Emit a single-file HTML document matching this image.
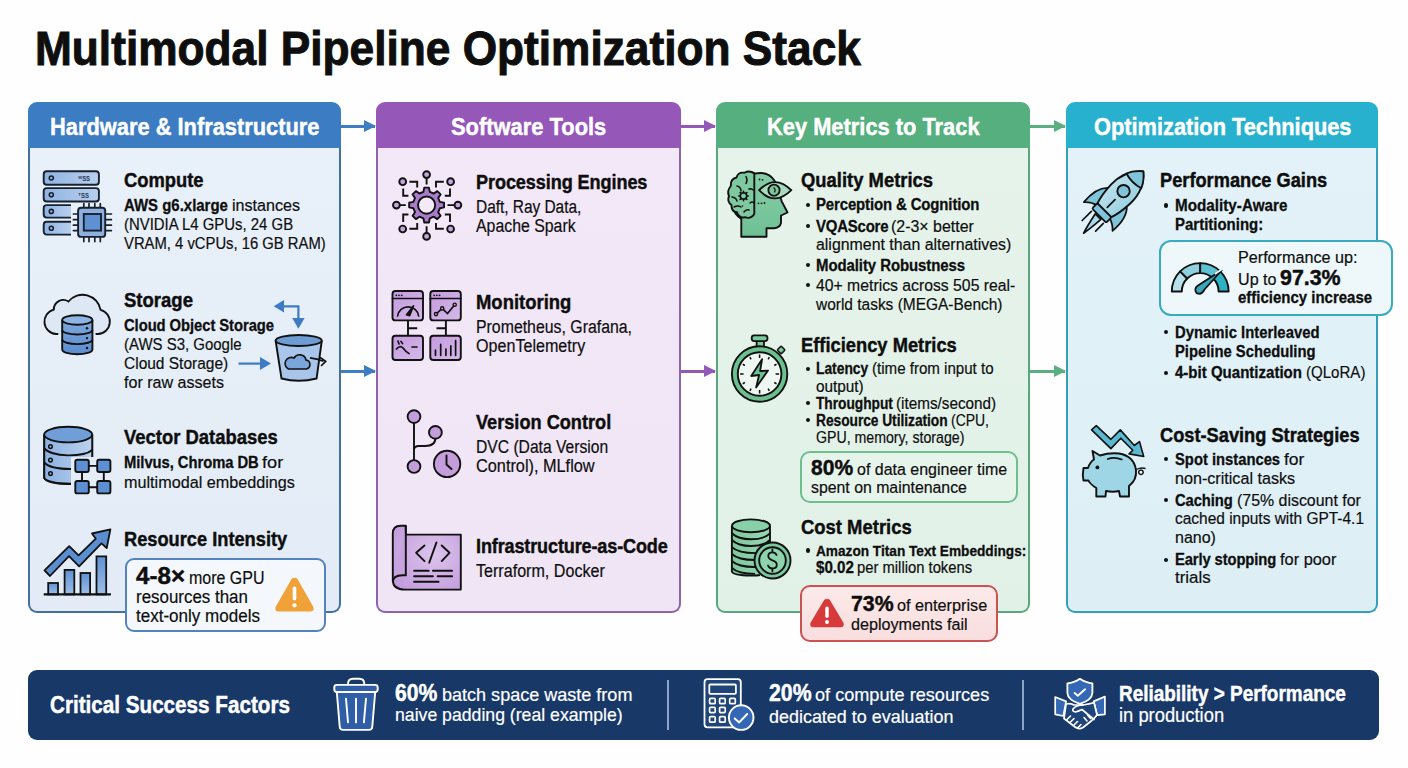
<!DOCTYPE html>
<html><head><meta charset="utf-8">
<style>
*{margin:0;padding:0;box-sizing:border-box}
html,body{width:1408px;height:768px;overflow:hidden;background:#fefefe}
body{position:relative;font-family:"Liberation Sans",sans-serif}
.t{position:absolute;white-space:nowrap;line-height:0;font-size:0;transform-origin:0 0}
.t b,.t span{line-height:0;font-weight:700}
.t span{font-weight:400}
.bu{position:absolute;width:4.2px;height:4.2px;border-radius:50%;background:#111}
.pn{position:absolute;top:102px;height:511px;border:2px solid;border-radius:9px;overflow:hidden}
.pn .hd{position:absolute;left:0;top:0;right:0;height:44px}
.ar{position:absolute;height:2.6px}
.ar:after{content:"";position:absolute;right:-1px;top:-5px;border-left:12px solid;border-left-color:inherit;border-top:6.3px solid transparent;border-bottom:6.3px solid transparent}
.box{position:absolute;border:2px solid;border-radius:10px}
svg{position:absolute;overflow:visible}
</style></head><body>

<!-- panels -->
<div style="position:absolute;left:28px;top:102px;width:313px;height:45.5px;background:#3b7cc3;border-radius:9px 9px 0 0"></div>
<div style="position:absolute;left:28px;top:147.5px;width:313px;height:465.3px;border:2px solid #44709f;border-top:0;border-radius:0 0 9px 9px;background:linear-gradient(180deg,#e8f0f9,#e3ecf6)"></div>
<div style="position:absolute;left:376px;top:102px;width:305px;height:45.5px;background:#9557b8;border-radius:9px 9px 0 0"></div>
<div style="position:absolute;left:376px;top:147.5px;width:305px;height:465.3px;border:2px solid #8c64ab;border-top:0;border-radius:0 0 9px 9px;background:linear-gradient(180deg,#f2e8f7,#efe5f4)"></div>
<div style="position:absolute;left:716px;top:102px;width:314px;height:45.5px;background:#55af7e;border-radius:9px 9px 0 0"></div>
<div style="position:absolute;left:716px;top:147.5px;width:314px;height:465.3px;border:2px solid #58a87b;border-top:0;border-radius:0 0 9px 9px;background:linear-gradient(180deg,#e5f3ea,#e2f1e7)"></div>
<div style="position:absolute;left:1066px;top:102px;width:312px;height:45.5px;background:#27b1cf;border-radius:9px 9px 0 0"></div>
<div style="position:absolute;left:1066px;top:147.5px;width:312px;height:465.3px;border:2px solid #34a0ba;border-top:0;border-radius:0 0 9px 9px;background:linear-gradient(180deg,#e2f2f8,#ddeff5)"></div>

<!-- arrows -->
<div class="ar" style="left:341px;top:125.2px;width:34px;background:#3f7dc2;border-color:#3f7dc2"></div>
<div class="ar" style="left:341px;top:370px;width:34px;background:#3f7dc2;border-color:#3f7dc2"></div>
<div class="ar" style="left:681px;top:125.2px;width:34px;background:#9459b6;border-color:#9459b6"></div>
<div class="ar" style="left:681px;top:370px;width:34px;background:#9459b6;border-color:#9459b6"></div>
<div class="ar" style="left:1030px;top:125.2px;width:35px;background:#5aae80;border-color:#5aae80"></div>
<div class="ar" style="left:1030px;top:370px;width:35px;background:#5aae80;border-color:#5aae80"></div>

<!-- callout boxes -->
<div class="box" style="left:125px;top:558px;width:201px;height:73.5px;border-color:#5283bf;background:#f4f8fc;border-radius:9px"></div>
<div class="box" style="left:799.5px;top:451px;width:218.5px;height:52px;border-color:#6fbf8e;background:#e7f4ec"></div>
<div class="box" style="left:800px;top:584.8px;width:197.7px;height:57.5px;border-color:#c95252;background:linear-gradient(180deg,#fce9e9,#f9dede)"></div>
<div class="box" style="left:1159px;top:240.3px;width:234px;height:75.5px;border-color:#3aa9c2;background:#eef8fb;border-radius:12px"></div>

<!-- bottom bar -->
<div style="position:absolute;left:28px;top:670px;width:1351px;height:69.5px;background:#183868;border-radius:9px"></div>
<div style="position:absolute;left:667px;top:680px;width:1.6px;height:49.5px;background:#8aa3c6"></div>
<div style="position:absolute;left:1022px;top:680px;width:1.6px;height:49.5px;background:#8aa3c6"></div>


<!-- P1 icon: servers + chip -->
<svg style="left:38px;top:165px" width="80" height="80" viewBox="0 0 80 80">
<defs>
<linearGradient id="gb1" x1="0" y1="0" x2="1" y2="0"><stop offset="0" stop-color="#8fb3e2"/><stop offset="1" stop-color="#b9d0ee"/></linearGradient>
<linearGradient id="gb2" x1="0" y1="0" x2="0" y2="1"><stop offset="0" stop-color="#7aa5dc"/><stop offset="1" stop-color="#5a8bcf"/></linearGradient>
</defs>
<g stroke="#17202c" stroke-width="1.9" fill="url(#gb1)">
<rect x="5.7" y="6.3" width="55.2" height="13.5" rx="3"/>
<rect x="5.7" y="23.1" width="55.2" height="13.4" rx="3"/>
<path d="M33,40.1 H8.7 a3,3 0 0 0 -3,3 v6.5 a3,3 0 0 0 3,3 H33"/>
<path d="M33,56.8 H8.7 a3,3 0 0 0 -3,3 v6.8 a3,3 0 0 0 3,3 H33"/>
</g>
<g fill="none" stroke="#17202c" stroke-width="1.6">
<circle cx="13.3" cy="13" r="2"/><circle cx="13.3" cy="29.8" r="2"/><circle cx="13.3" cy="46.4" r="2"/><circle cx="13.3" cy="63.2" r="2"/>
</g>
<g fill="#24364f" font-family="Liberation Sans" font-size="7" font-weight="700" transform="scale(0.85,1)"><text x="47.5" y="15.8">ᵂSS</text><text x="47.5" y="32.6">ᵀSS</text></g>
<g stroke="#17202c" stroke-width="1.7" stroke-linecap="round">
<path d="M45.8,38.5v4.2M51,38.5v4.2M56.8,38.5v4.2M62.3,38.5v4.2M45.8,71.9v4.7M51,71.9v4.7M56.8,71.9v4.7M62.3,71.9v4.7M35.4,49h4.7M35.4,54.7h4.7M35.4,60.2h4.7M35.4,65.6h4.7M67.2,49h6.2M67.2,54.7h6.2M67.2,60.2h6.2M67.2,65.6h6.2"/>
</g>
<rect x="40.1" y="42.7" width="27.1" height="29.2" rx="3" fill="#8db0df" stroke="#17202c" stroke-width="1.9"/>
<rect x="45.8" y="49" width="17.2" height="16.6" fill="#5f90d2" stroke="#17202c" stroke-width="1.9"/>
</svg>

<!-- P1 icon: cloud + db -->
<svg style="left:38px;top:285px" width="80" height="80" viewBox="0 0 80 80">
<defs><linearGradient id="gb3" x1="0" y1="0" x2="0" y2="1"><stop offset="0" stop-color="#7ea9de"/><stop offset="1" stop-color="#5c8ccf"/></linearGradient></defs>
<path d="M20.3,49 H18 A12.4,12.4 0 0 1 15.8,24.6 A9.5,9.5 0 0 1 30.5,16.5 A18.2,18.2 0 0 1 62.6,24.8 A12.3,12.3 0 0 1 60,49 H57.6" fill="#dde8f4" stroke="#111" stroke-width="1.9"/>
<g stroke="#111" stroke-width="1.9" fill="url(#gb3)">
<path d="M24.2,35 V64.5 A15.1,4.8 0 0 0 54.4,64.5 V35"/>
<path d="M24.2,45 A15.1,4.5 0 0 0 54.4,45 M24.2,54.6 A15.1,4.5 0 0 0 54.4,54.6" fill="none"/>
<ellipse cx="39.3" cy="35" rx="15.1" ry="4.7" fill="#8fb5e4"/>
</g>
<g fill="#111"><circle cx="49" cy="43.2" r="1.2"/><circle cx="49" cy="53.1" r="1.2"/><circle cx="49" cy="63" r="1.2"/></g>
</svg>

<!-- P1 icon: arrows + bucket -->
<svg style="left:232px;top:290px" width="100" height="100" viewBox="0 0 100 100">
<g stroke="#3d7cc4" stroke-width="2.2" fill="none"><path d="M50,16.3 H66.4 V29"/><path d="M6.5,73.6 H29"/></g>
<g fill="#3d7cc4"><path d="M41.7,16.3 L52,10.1 V22.5Z"/><path d="M66.4,38.8 L60.2,28 H72.6Z"/><path d="M39,73.6 L28,67.1 V80.1Z"/></g>
<path d="M43.6,50.5 L49.5,88.5 Q66.7,93 84.6,88.5 L89.8,50.5" fill="#a9c6ea" stroke="#111" stroke-width="1.9"/>
<ellipse cx="66.7" cy="50.5" rx="23.1" ry="5.5" fill="#6e9dd6" stroke="#111" stroke-width="1.9"/>
<path d="M56.5,79 H74.5 A4.6,4.6 0 0 0 74,70 A6.5,6.5 0 0 0 62,68 A5.5,5.5 0 0 0 56.5,79Z" fill="#7aa6dc" stroke="#111" stroke-width="1.6"/>
<path d="M78,67.8 Q85,68.5 91.5,71.2" fill="none" stroke="#111" stroke-width="1.7"/>
<path d="M88.5,67.8 L93.8,71.4 L89.5,75.5" fill="none" stroke="#111" stroke-width="1.7" stroke-linecap="round" stroke-linejoin="round"/>
</svg>

<!-- P1 icon: db + network -->
<svg style="left:38px;top:420px" width="80" height="80" viewBox="0 0 80 80">
<defs><linearGradient id="gb4" x1="0" y1="0" x2="1" y2="0"><stop offset="0" stop-color="#8cb1e2"/><stop offset="1" stop-color="#bcd2ee"/></linearGradient></defs>
<path d="M6.25,14.6 V58 A24,6.5 0 0 0 33,64 M54.2,14.6 V37" fill="url(#gb4)" stroke="#111" stroke-width="1.9"/>
<path d="M6.25,14.6 V58 Q8,63.5 33,63.6 V37 H54.2 V14.6Z" fill="url(#gb4)"/>
<path d="M6.25,14.6 V58 Q10,63.5 33,63.6 M54.2,14.6 V37" fill="none" stroke="#111" stroke-width="1.9"/>
<path d="M6.25,28.5 Q12,35 30,35.4 Q48,35.5 54.2,30 M6.25,42.5 Q12,49 33,49" fill="none" stroke="#111" stroke-width="1.9"/>
<ellipse cx="30.2" cy="14.6" rx="24" ry="7.8" fill="#6f9ed8" stroke="#111" stroke-width="1.9"/>
<g fill="none" stroke="#111" stroke-width="1.5"><circle cx="12.5" cy="26.6" r="1.8"/><circle cx="12.5" cy="40.1" r="1.8"/><circle cx="12.5" cy="53.6" r="1.8"/></g>
<g stroke="#111" stroke-width="1.9"><path d="M50.8,45.9H59.2M50.8,67.2H59.2M44,52V61M65.8,52V61"/></g>
<g fill="#5e8fd2" stroke="#111" stroke-width="1.9">
<rect x="37.3" y="39.8" width="13.5" height="12.2" rx="2"/><rect x="59.2" y="39.8" width="13.2" height="12.2" rx="2"/>
<rect x="37.3" y="61" width="13.5" height="12.4" rx="2"/><rect x="59.2" y="61" width="13.2" height="12.4" rx="2"/>
</g>
</svg>

<!-- P1 icon: growth chart -->
<svg style="left:38px;top:522px" width="80" height="80" viewBox="0 0 80 80">
<defs><linearGradient id="gb5" x1="0" y1="0" x2="0" y2="1"><stop offset="0" stop-color="#5f92d3"/><stop offset="1" stop-color="#9dbde8"/></linearGradient></defs>
<g fill="url(#gb5)" stroke="#111" stroke-width="1.8">
<rect x="10.2" y="61" width="9.8" height="11.4"/><rect x="26.6" y="47.9" width="9.7" height="24.5"/><rect x="42.5" y="51" width="9.6" height="21.4"/><rect x="58.5" y="34.4" width="9.7" height="38"/>
</g>
<path d="M6.5,48.4 L31.2,24.2 L40.6,33.3 L57.8,16.7 L54,11.5 L72.4,7.3 L68.7,26 L63.5,21.4 L41.1,44.3 L31,34.2 L12,54Z" fill="#5a8ed0" stroke="#111" stroke-width="1.8" stroke-linejoin="round"/>
<path d="M5.7,72.4 H72.9" stroke="#111" stroke-width="2.2"/>
</svg>

<!-- warning triangle orange -->
<svg style="left:274px;top:576px" width="41" height="37" viewBox="0 0 41 37">
<path d="M20.5,2 Q22.2,1 23.6,3.2 L39.4,31 Q40.5,35.5 36.5,35.5 H4.5 Q0.5,35.5 1.6,31 L17.4,3.2 Q18.8,1 20.5,2Z" fill="#f0a238"/>
<rect x="18.7" y="10.5" width="3.6" height="14" rx="1.8" fill="#fff"/><circle cx="20.5" cy="29.3" r="2.1" fill="#fff"/>
</svg>

<!-- P2 icon: gear network -->
<svg style="left:386px;top:165px" width="80" height="80" viewBox="0 0 80 80">
<g stroke="#111" stroke-width="1.9" fill="none" stroke-linecap="butt">
<path d="M40.6,13v6.5M40.6,61.3v6.8M13.8,40.1h6M61.5,40.1h6.8"/>
<path d="M23.4,16.7H31.2V22.4M17.2,23.4V30.7H22.4"/>
<path d="M57.8,16.7H50V22.4M64,23.4V30.7H58.8"/>
<path d="M23.4,63.8H31.2V58M17.2,57V49.5H22.4"/>
<path d="M57.8,63.8H50V58M64,57V49.5H58.8"/>
</g>
<g fill="#c7a5dc" stroke="#111" stroke-width="1.9">
<circle cx="40.6" cy="9.6" r="3.4"/><circle cx="40.6" cy="71.4" r="3.4"/><circle cx="10.4" cy="40.1" r="3.4"/><circle cx="71.9" cy="40.1" r="3.4"/>
<circle cx="16.7" cy="16.7" r="3.4"/><circle cx="64.6" cy="16.7" r="3.4"/><circle cx="16.7" cy="64" r="3.4"/><circle cx="64.6" cy="64" r="3.4"/>
</g>
<path d="M53.82,36.93 L58.04,37.76 L58.04,42.44 L53.82,43.27 L52.20,47.21 L54.59,50.78 L51.28,54.09 L47.71,51.70 L43.77,53.32 L42.94,57.54 L38.26,57.54 L37.43,53.32 L33.49,51.70 L29.92,54.09 L26.61,50.78 L29.00,47.21 L27.38,43.27 L23.16,42.44 L23.16,37.76 L27.38,36.93 L29.00,32.99 L26.61,29.42 L29.92,26.11 L33.49,28.50 L37.43,26.88 L38.26,22.66 L42.94,22.66 L43.77,26.88 L47.71,28.50 L51.28,26.11 L54.59,29.42 L52.20,32.99Z" fill="#a97ccb" stroke="#111" stroke-width="1.9" stroke-linejoin="round"/>
<circle cx="40.6" cy="40.1" r="8.6" fill="#f3eaf8" stroke="#111" stroke-width="1.9"/>
</svg>

<!-- P2 icon: dashboards -->
<svg style="left:386px;top:286px" width="80" height="80" viewBox="0 0 80 80">
<defs><linearGradient id="gp1" x1="0" y1="0" x2="1" y2="1"><stop offset="0" stop-color="#c49adf"/><stop offset="1" stop-color="#d5b9e8"/></linearGradient></defs>
<g stroke="#111" stroke-width="1.9" fill="none"><path d="M22,34.4V49.8M22,42.2H31.2M59.9,34.4V49.8M59.9,42.2H50.5"/></g>
<g fill="url(#gp1)" stroke="#111" stroke-width="1.9">
<rect x="6.5" y="5" width="30.5" height="29.4" rx="3"/><rect x="44.3" y="5" width="30.5" height="29.4" rx="3"/>
<rect x="6.5" y="49.8" width="30.5" height="24.2" rx="3"/><rect x="44.3" y="49.8" width="30.5" height="24.2" rx="3"/>
</g>
<g stroke="#111" stroke-width="1.7" fill="none" stroke-linecap="round">
<path d="M6.5,12.5H37M44.3,12.5H74.8"/>
<path d="M11.6,30 A10.6,10.6 0 0 1 32.6,30"/>
<path d="M50,28.1 L56.2,22.4 L61.5,27.6 L68.7,18.7"/>
<path d="M49.5,69.3V64M54.7,69.3V58.3M59.9,69.3V63M64.8,69.3V59.9M69.6,69.3V54.7"/>
<path d="M10.5,63 Q14,59 17,62 Q20,66 23,67.5 M26,61h5 M12,55 l1,3 M15,55.5l1.5,2"/>
</g>
<g fill="#111"><circle cx="10.3" cy="9.3" r="0.9"/><circle cx="13" cy="9.3" r="0.9"/><circle cx="15.7" cy="9.3" r="0.9"/><circle cx="48.2" cy="9.3" r="0.9"/><circle cx="50.9" cy="9.3" r="0.9"/><circle cx="53.6" cy="9.3" r="0.9"/></g>
<path d="M20.5,28.8 L27.6,19.8 L23.6,29.8Z" fill="#111" stroke="#111" stroke-width="1.6" stroke-linejoin="round"/>
<g fill="#d2b3e6" stroke="#111" stroke-width="1.4"><circle cx="50" cy="28.1" r="1.6"/><circle cx="56.2" cy="22.4" r="1.6"/><circle cx="68.7" cy="18.7" r="1.6"/></g>
</svg>

<!-- P2 icon: git branch + clock -->
<svg style="left:386px;top:400px" width="80" height="80" viewBox="0 0 80 80">
<g stroke="#111" stroke-width="1.9" fill="none"><path d="M28,17V60"/><path d="M28,50 Q28,46 33,46 H39 Q49.4,46 49.4,38"/></g>
<g fill="#c49ddb" stroke="#111" stroke-width="1.9">
<circle cx="28" cy="16.6" r="6.4"/><circle cx="49.4" cy="32.4" r="6.4"/><circle cx="28" cy="66.5" r="6.4"/>
<circle cx="61.1" cy="63.9" r="13.2"/>
</g>
<path d="M60.5,55.5V64.5L65.5,69" fill="none" stroke="#111" stroke-width="1.9" stroke-linecap="round"/>
</svg>

<!-- P2 icon: IaC scroll -->
<svg style="left:386px;top:520px" width="80" height="80" viewBox="0 0 80 80">
<defs><radialGradient id="gp2" cx="0.6" cy="0.45" r="0.7"><stop offset="0" stop-color="#dcc5ec"/><stop offset="1" stop-color="#c29bdc"/></radialGradient></defs>
<path d="M19.8,14.6 H74.8 V69.6 H19 Q6.8,69.6 6.8,60 V13.5 Q6.8,5.7 14.5,5.7 H19.8Z" fill="url(#gp2)" stroke="#111" stroke-width="1.9" stroke-linejoin="round"/>
<path d="M19.8,5.7 V55.2 H16.5 Q6.8,55.5 6.8,62" fill="#c7a3de" stroke="#111" stroke-width="1.9"/>
<g stroke="#111" stroke-width="1.9" fill="none" stroke-linecap="round" stroke-linejoin="round">
<path d="M38.5,25.5 L30.2,32.8 L38.5,41.1"/><path d="M50.5,22.4 L43.2,42.7"/><path d="M55.7,25.5 L63.5,32.8 L55.7,41.1"/>
<path d="M28.1,50.8H42.7M46.9,50.8H66.1M28.1,56.2H46.9M51.6,56.2H66.1M28.1,61.7H52.6"/>
</g>
</svg>

<!-- P3 icon: head -->
<svg style="left:724px;top:166px" width="72" height="76" viewBox="0 0 72 76">
<defs><linearGradient id="gg1" x1="0" y1="0" x2="0" y2="1"><stop offset="0" stop-color="#86cda6"/><stop offset="1" stop-color="#6fc096"/></linearGradient></defs>
<path d="M17.3,70.7 V53 Q10,48 8.5,40 Q4,36 6,29 Q5,21 11,17 Q14,9 21,8 Q27,5 31,7.5 Q44,5 50,14 Q55,22 57,33 Q58,37 58.4,36.6 L63.5,46.5 L57,49.5 V57 Q56,61.5 50.4,62.3 H42.5 V70.7Z" fill="url(#gg1)" stroke="#111" stroke-width="1.9" stroke-linejoin="round"/>
<path d="M30.3,7.5 Q25.5,3.8 20.5,6.8 Q14,5.8 12.5,11.5 Q6.2,13 6.8,20 Q2.6,25 5,30 Q2.6,35.5 7.5,39 Q7,45.5 13,46.3 Q15,52.5 21,51.2 Q26.5,53.5 30.3,48 Z" fill="#7fc9a0" stroke="#111" stroke-width="1.9" stroke-linejoin="round"/>
<g fill="none" stroke="#111" stroke-width="1.5" stroke-linecap="round">
<path d="M22,10.5 Q24,14 22,17.5 M13,20 Q17,21 17,25 M8,31 Q12,31.5 13,35 M10,41 Q14,39 17,41 M20,46 Q22,43 25,44 M25,23 Q28,22 29,24 M26,37 Q28,35 30,37"/>
<circle cx="19.5" cy="30" r="3.2"/>
<path d="M19.5,25.2v1.6M19.5,33.2v1.6M14.7,30h1.6M22.7,30h1.6M16,26.5l1.1,1.1M21.9,32.4l1.1,1.1M16,33.5l1.1,-1.1M21.9,27.6l1.1,-1.1"/>
</g>
<path d="M35.1,24.2 Q51,8 67.3,24.2 Q51,40.5 35.1,24.2Z" fill="#a6dcbd" stroke="#111" stroke-width="1.9" stroke-linejoin="round"/>
<circle cx="50" cy="24.2" r="5.6" fill="#7cc69c" stroke="#111" stroke-width="1.8"/>
<path d="M49.5,21.5 Q52,23 50.5,26.5" fill="none" stroke="#111" stroke-width="1.2"/>
<g fill="#111"><circle cx="35.5" cy="13.5" r="0.9"/><circle cx="38.5" cy="13.8" r="0.9"/><circle cx="34.5" cy="37.3" r="0.9"/><circle cx="37.5" cy="37.3" r="0.9"/><circle cx="40.5" cy="37" r="0.9"/><circle cx="26.5" cy="23" r="0.8"/><circle cx="18.5" cy="40" r="0.8"/></g>
</svg>

<!-- P3 icon: stopwatch -->
<svg style="left:724px;top:330px" width="72" height="76" viewBox="0 0 72 76">
<rect x="32.6" y="10.5" width="7.4" height="6.5" fill="#79c79b" stroke="#111" stroke-width="1.8"/>
<rect x="27.7" y="5.4" width="15.8" height="5.7" rx="2.5" fill="#79c79b" stroke="#111" stroke-width="1.8"/>
<rect x="54.3" y="17.2" width="5.6" height="5.6" rx="1" transform="rotate(45 57.1 20)" fill="#79c79b" stroke="#111" stroke-width="1.6"/>
<circle cx="35.6" cy="44" r="24.8" fill="none" stroke="#6cc08f" stroke-width="5.8"/>
<circle cx="35.6" cy="44" r="27.7" fill="none" stroke="#111" stroke-width="1.9"/>
<circle cx="35.6" cy="44" r="21.8" fill="#eef7f1" stroke="#111" stroke-width="1.9"/>
<path d="M35.60,24.50L35.60,28.00M45.35,27.11L44.10,29.28M52.49,34.25L50.32,35.50M55.10,44.00L51.60,44.00M52.49,53.75L50.32,52.50M45.35,60.89L44.10,58.72M35.60,63.50L35.60,60.00M25.85,60.89L27.10,58.72M18.71,53.75L20.88,52.50M16.10,44.00L19.60,44.00M18.71,34.25L20.88,35.50M25.85,27.11L27.10,29.28" stroke="#111" stroke-width="1.5"/>
<path d="M38.1,29.2 L27.2,46 L35.1,45 L32.1,57.4 L44,40.6 L36.1,41Z" fill="#6cc08f" stroke="#111" stroke-width="1.8" stroke-linejoin="round"/>
</svg>

<!-- P3 icon: coins -->
<svg style="left:724px;top:512px" width="72" height="76" viewBox="0 0 72 76">
<defs><linearGradient id="gg2" x1="0" y1="0" x2="1" y2="0"><stop offset="0" stop-color="#7cc89e"/><stop offset="1" stop-color="#9ad6b4"/></linearGradient></defs>
<path d="M7.9,13.8 V59.5 Q9,63.5 27,63.5 Q38,63.5 46,60 V13.8Z" fill="url(#gg2)"/><path d="M7.9,13.8 V59.5 Q9,63.5 27,63.5 Q34,63.5 36,63" fill="none" stroke="#111" stroke-width="1.9"/>
<path d="M46,13.8 V33" stroke="#111" stroke-width="1.9"/>
<g fill="none" stroke="#111" stroke-width="1.9">
<path d="M7.9,21.3 Q14,27.3 27,27.3 Q40,27.3 46,21.3"/>
<path d="M7.9,28 Q14,34 27,34 Q40,34 46,28"/>
<path d="M7.9,35.1 Q14,41.1 32,41.1"/>
<path d="M7.9,42 Q14,48 31,48"/>
<path d="M7.9,49 Q14,55 31,55"/>
<path d="M7.9,55.9 Q14,61.9 31,61.9"/>
</g>
<ellipse cx="27" cy="13.8" rx="19" ry="6.4" fill="#88d0a8" stroke="#111" stroke-width="1.9"/>
<circle cx="48.5" cy="48.5" r="18" fill="#7cc89e" stroke="#111" stroke-width="1.9"/>
<circle cx="48.5" cy="48.5" r="13.3" fill="#8fd3ae" stroke="#111" stroke-width="1.9"/>
<path d="M52.5,43 Q51.5,40.3 48.3,40.3 Q44.3,40.3 44.3,44 Q44.3,47 48.5,48.3 Q52.8,49.6 52.8,52.8 Q52.8,56.5 48.5,56.5 Q45,56.5 44,53.5 M48.4,37.5V40.3M48.4,56.5V59.3" fill="none" stroke="#111" stroke-width="1.8" stroke-linecap="round"/>
</svg>

<!-- red warning triangle -->
<svg style="left:809px;top:597px" width="36" height="32" viewBox="0 0 36 32">
<path d="M18,2.3 Q19.6,1.3 21,3.3 L34.6,26 Q35.5,30.3 31.6,30.3 H4.4 Q0.5,30.3 1.4,26 L15,3.3 Q16.4,1.3 18,2.3Z" fill="#d8393b"/>
<rect x="16.3" y="9.5" width="3.4" height="11.5" rx="1.7" fill="#fff"/><circle cx="18" cy="25" r="2" fill="#fff"/>
</svg>

<!-- P4 icon: rocket -->
<svg style="left:1076px;top:164px" width="76" height="76" viewBox="0 0 76 76">
<defs><linearGradient id="gt1" x1="0" y1="0" x2="1" y2="0"><stop offset="0" stop-color="#b9e0ec"/><stop offset="1" stop-color="#9dd2e3"/></linearGradient></defs>
<g transform="translate(43.3,31.4) rotate(45)">
<path d="M-4,30 Q0,48 1.5,52 Q3,44 4,30Z" fill="#a9d8e6" stroke="#111" stroke-width="1.7" stroke-linejoin="round"/>
<path d="M-8.5,31 V44 M8.5,31 V42" stroke="#111" stroke-width="1.7" stroke-linecap="round"/>
<path d="M-12.5,2 Q-22,10 -20.3,29.8 Q-15,24 -8.3,22.8Z" fill="#7fc4da" stroke="#111" stroke-width="1.8" stroke-linejoin="round"/>
<path d="M12.5,2 Q22,10 20.3,29.8 Q15,24 8.3,22.8Z" fill="#7fc4da" stroke="#111" stroke-width="1.8" stroke-linejoin="round"/>
<path d="M0,-34 Q14,-22 13.5,-2 Q13,12 9.5,22 H-9.5 Q-13,12 -13.5,-2 Q-14,-22 0,-34Z" fill="url(#gt1)" stroke="#111" stroke-width="1.9" stroke-linejoin="round"/>
<path d="M0,-34 Q7.5,-28 10.5,-20.5 Q0,-17.5 -10.5,-20.5 Q-7.5,-28 0,-34Z" fill="#7fc4da" stroke="#111" stroke-width="1.8" stroke-linejoin="round"/>
<rect x="-10" y="21" width="20" height="7.5" rx="1.5" fill="#7fc4da" stroke="#111" stroke-width="1.8"/>
<circle cx="0" cy="-6" r="6.2" fill="#7fc4da" stroke="#111" stroke-width="1.9"/>
<path d="M0,6 V17" stroke="#111" stroke-width="1.7" stroke-linecap="round"/>
</g>
</svg>

<!-- P4 icon: gauge -->
<svg style="left:1164px;top:250px" width="76" height="55" viewBox="0 0 76 55">
<path d="M7.80,41.50 A28.4,28.4 0 0 1 16.12,21.42 L23.19,28.49 A18.4,18.4 0 0 0 17.80,41.50 Z" fill="#b6e0ea" stroke="#111" stroke-width="1.9" stroke-linejoin="round"/>
<path d="M16.12,21.42 A28.4,28.4 0 0 1 36.20,13.10 L36.20,23.10 A18.4,18.4 0 0 0 23.19,28.49 Z" fill="#8fd0e0" stroke="#111" stroke-width="1.9" stroke-linejoin="round"/>
<path d="M36.20,13.10 A28.4,28.4 0 0 1 56.28,21.42 L49.21,28.49 A18.4,18.4 0 0 0 36.20,23.10 Z" fill="#5cc2d2" stroke="#111" stroke-width="1.9" stroke-linejoin="round"/>
<path d="M56.28,21.42 A28.4,28.4 0 0 1 64.60,41.50 L54.60,41.50 A18.4,18.4 0 0 0 49.21,28.49 Z" fill="#2fb2c4" stroke="#111" stroke-width="1.9" stroke-linejoin="round"/>
<path d="M58,20 L40.5,39.5 Q37.5,45.5 32.5,43 Q29.5,38.5 34,35.5Z" fill="#38a6bb" stroke="#111" stroke-width="1.8" stroke-linejoin="round"/>
<path d="M51,24 L59,18.5" stroke="#e9f9fc" stroke-width="1.6"/>
</svg>

<!-- P4 icon: piggy -->
<svg style="left:1076px;top:420px" width="76" height="80" viewBox="0 0 76 80">
<path d="M15.6,9.9 L20.3,5.7 L34.9,19.3 L44.3,9.9 L58.3,25.5 L63.5,21.6 L67.7,36.5 L53.1,33.9 L56.8,30.2 L44.8,18.2 L34.9,28.6Z" fill="#5ab8d0" stroke="#111" stroke-width="1.6" stroke-linejoin="round"/>
<path d="M16.5,31 L24,35.5 Q33,32.5 43,33.5 Q58,36 60,50 Q61,60 53,66 L53,76.5 H44 L43,71 Q37,72.5 30,71 L29.5,76.5 H20.3 L20.3,68 Q14,64 12.5,60.5 H7.5 Q6.2,55 7.5,48 H12 Q14,42 18,39.5Z" fill="#9fd6e5" stroke="#111" stroke-width="1.9" stroke-linejoin="round"/>
<circle cx="21.4" cy="47.4" r="1.9" fill="#111"/>
<path d="M31.8,39 Q38.5,36.5 45.8,39.5" fill="none" stroke="#111" stroke-width="1.8" stroke-linecap="round"/>
<path d="M60.5,49.5 Q65,47 69.5,48.5 M65,50 A2.3,2.3 0 1 1 64.9,50" fill="none" stroke="#111" stroke-width="1.4"/>
</svg>

<!-- bottom: trash -->
<svg style="left:326px;top:672px" width="60" height="64" viewBox="0 0 60 64">
<path d="M22,12.1 Q22,6.8 27,6.8 H33.3 Q38.3,6.8 38.3,12.1" fill="none" stroke="#fff" stroke-width="1.9"/>
<path d="M10.8,20 L13.75,55 Q14,57.9 17,57.9 H43 Q46,57.9 46.25,55 L49.2,20Z" fill="#2f5ea6" stroke="#fff" stroke-width="1.9" stroke-linejoin="round"/>
<rect x="8.3" y="12.9" width="43.4" height="7.1" rx="2.5" fill="#2f5ea6" stroke="#fff" stroke-width="1.9"/>
<path d="M20,26.7 L22,50.4 M30,26.7 V50.4 M40,26.7 L37.9,50.4" stroke="#fff" stroke-width="1.9" stroke-linecap="round"/>
</svg>

<!-- bottom: calculator -->
<svg style="left:698px;top:674px" width="64" height="62" viewBox="0 0 64 62">
<rect x="6.5" y="5.2" width="36.3" height="48.1" rx="3" fill="#1e4479" stroke="#fff" stroke-width="1.8"/>
<rect x="11.3" y="10.5" width="26.6" height="9.3" rx="1" fill="#1e4479" stroke="#fff" stroke-width="1.8"/>
<g fill="none" stroke="#fff" stroke-width="1.7">
<rect x="11.6" y="24.4" width="5.6" height="5.3" rx="1"/><rect x="21.6" y="24.4" width="5.6" height="5.3" rx="1"/><rect x="31.7" y="24.4" width="5.6" height="5.3" rx="1"/>
<rect x="11.6" y="33.3" width="5.6" height="5.3" rx="1"/><rect x="21.6" y="33.3" width="5.6" height="5.3" rx="1"/>
<rect x="11.6" y="42.6" width="5.6" height="5.6" rx="1"/><rect x="21.6" y="42.6" width="5.6" height="5.6" rx="1"/>
</g>
<circle cx="43.2" cy="43.6" r="12.3" fill="#3468b4" stroke="#fff" stroke-width="1.9"/>
<path d="M36.7,44.4 L41.2,48.4 L49.2,40" fill="none" stroke="#fff" stroke-width="2" stroke-linecap="round" stroke-linejoin="round"/>
</svg>

<!-- bottom: shield + handshake -->
<svg style="left:1050px;top:674px" width="62" height="62" viewBox="0 0 62 62">
<path d="M5.2,23 L16.1,27.4 L13.3,42 L5.2,40.4Z" fill="#3468b4" stroke="#fff" stroke-width="1.7" stroke-linejoin="round"/>
<path d="M54.9,22.6 L43.6,27.4 L47.2,41.2 L54.9,40.4Z" fill="#3468b4" stroke="#fff" stroke-width="1.7" stroke-linejoin="round"/>
<path d="M29.9,4.8 Q36,9 42.4,9.3 V19 Q42,26 29.9,29.9 Q17.8,26 17.4,19 V9.3 Q24,9 29.9,4.8Z" fill="#3468b4" stroke="#fff" stroke-width="1.8" stroke-linejoin="round"/>
<path d="M24.6,19 L27.8,21.8 L35.1,15.3" fill="none" stroke="#fff" stroke-width="1.9" stroke-linecap="round" stroke-linejoin="round"/>
<path d="M16.1,30 Q20,29 24,31 L32,31 Q40,30 44,28.5 L47,41 Q44,45 40,48 L33,53.5 Q29,56 25,53 L14,44.5 Z" fill="#1e4479" stroke="#fff" stroke-width="1.7" stroke-linejoin="round"/>
<path d="M33,31 Q26,31 23,35 Q22,37.5 25.5,38 Q29,37 32,35.5 L44,45.5" fill="none" stroke="#fff" stroke-width="1.7" stroke-linecap="round" stroke-linejoin="round"/>
<path d="M17,45.5 L20.5,42 M20.5,48 L24,44.5 M24,51 L27.5,47.5 M28,53.5 L31,50.5 M37,47 L34,43.5 M40.5,44.5 L37.5,41" stroke="#fff" stroke-width="1.6" stroke-linecap="round"/>
</svg>



<div class="t" style="left:34.60px;top:47.81px;color:#0e0e0e;transform:scaleX(0.9121)"><b style="font-size:48.50px;-webkit-text-stroke:1.00px #0e0e0e">Multimodal Pipeline Optimization Stack</b></div>
<div class="t" style="left:49.70px;top:126.50px;color:#fff;transform:scaleX(0.8956)"><b style="font-size:24.40px;-webkit-text-stroke:0.45px #fff">Hardware &amp; Infrastructure</b></div>
<div class="t" style="left:450.70px;top:126.50px;color:#fff;transform:scaleX(0.8976)"><b style="font-size:24.40px;-webkit-text-stroke:0.45px #fff">Software Tools</b></div>
<div class="t" style="left:766.80px;top:126.50px;color:#fff;transform:scaleX(0.8961)"><b style="font-size:24.40px;-webkit-text-stroke:0.45px #fff">Key Metrics to Track</b></div>
<div class="t" style="left:1093.50px;top:126.50px;color:#fff;transform:scaleX(0.8935)"><b style="font-size:24.40px;-webkit-text-stroke:0.45px #fff">Optimization Techniques</b></div>
<div class="t" style="left:124.30px;top:179.91px;color:#0e0e0e;transform:scaleX(0.8736)"><b style="font-size:21.00px;-webkit-text-stroke:0.45px #0e0e0e">Compute</b></div>
<div class="t" style="left:124.30px;top:205.32px;color:#0e0e0e;transform:scaleX(0.8701)"><b style="font-size:17.20px;-webkit-text-stroke:0.30px #0e0e0e">AWS g6.xlarge</b></div>
<div class="t" style="left:231.50px;top:205.32px;color:#0e0e0e;transform:scaleX(0.9377)"><span style="font-size:17.20px;-webkit-text-stroke:0.20px #0e0e0e">instances</span></div>
<div class="t" style="left:124.30px;top:224.01px;color:#0e0e0e;transform:scaleX(0.8677)"><span style="font-size:17.20px;-webkit-text-stroke:0.20px #0e0e0e">(NVIDIA L4 GPUs, 24 GB</span></div>
<div class="t" style="left:124.30px;top:242.51px;color:#0e0e0e;transform:scaleX(0.8620)"><span style="font-size:17.20px;-webkit-text-stroke:0.20px #0e0e0e">VRAM, 4 vCPUs, 16 GB RAM)</span></div>
<div class="t" style="left:124.30px;top:299.91px;color:#0e0e0e;transform:scaleX(0.8825)"><b style="font-size:21.00px;-webkit-text-stroke:0.45px #0e0e0e">Storage</b></div>
<div class="t" style="left:124.30px;top:325.32px;color:#0e0e0e;letter-spacing:-0.069px;transform:scaleX(0.8600)"><b style="font-size:17.20px;-webkit-text-stroke:0.30px #0e0e0e">Cloud Object Storage</b></div>
<div class="t" style="left:124.30px;top:344.01px;color:#0e0e0e;transform:scaleX(0.8710)"><span style="font-size:17.20px;-webkit-text-stroke:0.20px #0e0e0e">(AWS S3, Google</span></div>
<div class="t" style="left:124.30px;top:362.51px;color:#0e0e0e;transform:scaleX(0.9013)"><span style="font-size:17.20px;-webkit-text-stroke:0.20px #0e0e0e">Cloud Storage)</span></div>
<div class="t" style="left:124.30px;top:381.91px;color:#0e0e0e;transform:scaleX(0.9347)"><span style="font-size:17.20px;-webkit-text-stroke:0.20px #0e0e0e">for raw assets</span></div>
<div class="t" style="left:124.30px;top:437.10px;color:#0e0e0e;transform:scaleX(0.8777)"><b style="font-size:21.00px;-webkit-text-stroke:0.45px #0e0e0e">Vector Databases</b></div>
<div class="t" style="left:124.30px;top:461.91px;color:#0e0e0e;letter-spacing:-0.053px;transform:scaleX(0.8600)"><b style="font-size:17.20px;-webkit-text-stroke:0.30px #0e0e0e">Milvus, Chroma DB</b></div>
<div class="t" style="left:261.80px;top:461.91px;color:#0e0e0e;transform:scaleX(1.0567)"><span style="font-size:17.20px;-webkit-text-stroke:0.20px #0e0e0e">for</span></div>
<div class="t" style="left:124.30px;top:481.51px;color:#0e0e0e;transform:scaleX(0.9414)"><span style="font-size:17.20px;-webkit-text-stroke:0.20px #0e0e0e">multimodal embeddings</span></div>
<div class="t" style="left:124.30px;top:539.00px;color:#0e0e0e;transform:scaleX(0.8685)"><b style="font-size:21.00px;-webkit-text-stroke:0.45px #0e0e0e">Resource Intensity</b></div>
<div class="t" style="left:136.00px;top:575.80px;color:#0e0e0e;transform:scaleX(1.0272)"><b style="font-size:23.50px;-webkit-text-stroke:0.45px #0e0e0e">4-8×</b></div>
<div class="t" style="left:189.30px;top:577.80px;color:#0e0e0e;transform:scaleX(0.8879)"><span style="font-size:18.00px;-webkit-text-stroke:0.20px #0e0e0e">more GPU</span></div>
<div class="t" style="left:136.00px;top:596.61px;color:#0e0e0e;transform:scaleX(0.9397)"><span style="font-size:18.00px;-webkit-text-stroke:0.20px #0e0e0e">resources than</span></div>
<div class="t" style="left:136.00px;top:615.71px;color:#0e0e0e;transform:scaleX(0.9461)"><span style="font-size:18.00px;-webkit-text-stroke:0.20px #0e0e0e">text-only models</span></div>
<div class="t" style="left:476.40px;top:181.81px;color:#0e0e0e;letter-spacing:-0.084px;transform:scaleX(0.8600)"><b style="font-size:21.00px;-webkit-text-stroke:0.45px #0e0e0e">Processing Engines</b></div>
<div class="t" style="left:476.40px;top:207.30px;color:#0e0e0e;letter-spacing:-0.044px;transform:scaleX(0.8600)"><span style="font-size:18.00px;-webkit-text-stroke:0.20px #0e0e0e">Daft, Ray Data,</span></div>
<div class="t" style="left:476.40px;top:226.40px;color:#0e0e0e;transform:scaleX(0.8808)"><span style="font-size:18.00px;-webkit-text-stroke:0.20px #0e0e0e">Apache Spark</span></div>
<div class="t" style="left:476.40px;top:301.81px;color:#0e0e0e;transform:scaleX(0.8786)"><b style="font-size:21.00px;-webkit-text-stroke:0.45px #0e0e0e">Monitoring</b></div>
<div class="t" style="left:476.40px;top:327.30px;color:#0e0e0e;transform:scaleX(0.8809)"><span style="font-size:18.00px;-webkit-text-stroke:0.20px #0e0e0e">Prometheus, Grafana,</span></div>
<div class="t" style="left:476.40px;top:346.40px;color:#0e0e0e;transform:scaleX(0.8946)"><span style="font-size:18.00px;-webkit-text-stroke:0.20px #0e0e0e">OpenTelemetry</span></div>
<div class="t" style="left:476.40px;top:421.81px;color:#0e0e0e;transform:scaleX(0.8647)"><b style="font-size:21.00px;-webkit-text-stroke:0.45px #0e0e0e">Version Control</b></div>
<div class="t" style="left:476.40px;top:447.30px;color:#0e0e0e;transform:scaleX(0.8694)"><span style="font-size:18.00px;-webkit-text-stroke:0.20px #0e0e0e">DVC (Data Version</span></div>
<div class="t" style="left:476.40px;top:466.01px;color:#0e0e0e;transform:scaleX(0.9050)"><span style="font-size:18.00px;-webkit-text-stroke:0.20px #0e0e0e">Control), MLflow</span></div>
<div class="t" style="left:476.40px;top:545.60px;color:#0e0e0e;letter-spacing:-0.160px;transform:scaleX(0.8600)"><b style="font-size:21.00px;-webkit-text-stroke:0.45px #0e0e0e">Infrastructure-as-Code</b></div>
<div class="t" style="left:476.40px;top:571.11px;color:#0e0e0e;transform:scaleX(0.8943)"><span style="font-size:18.00px;-webkit-text-stroke:0.20px #0e0e0e">Terraform, Docker</span></div>
<div class="t" style="left:800.70px;top:179.91px;color:#0e0e0e;transform:scaleX(0.8774)"><b style="font-size:21.00px;-webkit-text-stroke:0.45px #0e0e0e">Quality Metrics</b></div>
<div class="t" style="left:816.30px;top:204.21px;color:#0e0e0e;letter-spacing:-0.154px;transform:scaleX(0.8600)"><b style="font-size:17.40px;-webkit-text-stroke:0.30px #0e0e0e">Perception &amp; Cognition</b></div>
<div class="t" style="left:816.30px;top:225.60px;color:#0e0e0e;letter-spacing:-0.246px;transform:scaleX(0.8600)"><b style="font-size:17.40px;-webkit-text-stroke:0.30px #0e0e0e">VQAScore</b></div>
<div class="t" style="left:891.30px;top:225.60px;color:#0e0e0e;transform:scaleX(0.9171)"><span style="font-size:17.40px;-webkit-text-stroke:0.20px #0e0e0e">(2-3× better</span></div>
<div class="t" style="left:816.30px;top:244.31px;color:#0e0e0e;transform:scaleX(0.9142)"><span style="font-size:17.40px;-webkit-text-stroke:0.20px #0e0e0e">alignment than alternatives)</span></div>
<div class="t" style="left:816.30px;top:264.50px;color:#0e0e0e;letter-spacing:-0.085px;transform:scaleX(0.8600)"><b style="font-size:17.40px;-webkit-text-stroke:0.30px #0e0e0e">Modality Robustness</b></div>
<div class="t" style="left:816.30px;top:285.00px;color:#0e0e0e;transform:scaleX(0.9064)"><span style="font-size:17.40px;-webkit-text-stroke:0.20px #0e0e0e">40+ metrics across 505 real-</span></div>
<div class="t" style="left:816.30px;top:303.71px;color:#0e0e0e;transform:scaleX(0.8893)"><span style="font-size:17.40px;-webkit-text-stroke:0.20px #0e0e0e">world tasks (MEGA-Bench)</span></div>
<div class="t" style="left:800.70px;top:344.70px;color:#0e0e0e;transform:scaleX(0.8724)"><b style="font-size:21.00px;-webkit-text-stroke:0.45px #0e0e0e">Efficiency Metrics</b></div>
<div class="t" style="left:816.30px;top:369.41px;color:#0e0e0e;transform:scaleX(0.8633)"><b style="font-size:16.00px;-webkit-text-stroke:0.30px #0e0e0e">Latency</b></div>
<div class="t" style="left:871.50px;top:369.41px;color:#0e0e0e;transform:scaleX(0.9431)"><span style="font-size:16.00px;-webkit-text-stroke:0.20px #0e0e0e">(time from input to</span></div>
<div class="t" style="left:816.30px;top:386.71px;color:#0e0e0e;transform:scaleX(0.9576)"><span style="font-size:16.00px;-webkit-text-stroke:0.20px #0e0e0e">output)</span></div>
<div class="t" style="left:816.30px;top:403.60px;color:#0e0e0e;letter-spacing:-0.036px;transform:scaleX(0.8600)"><b style="font-size:16.00px;-webkit-text-stroke:0.30px #0e0e0e">Throughput</b></div>
<div class="t" style="left:896.00px;top:403.60px;color:#0e0e0e;transform:scaleX(0.9540)"><span style="font-size:16.00px;-webkit-text-stroke:0.20px #0e0e0e">(items/second)</span></div>
<div class="t" style="left:816.30px;top:420.91px;color:#0e0e0e;letter-spacing:-0.041px;transform:scaleX(0.8600)"><b style="font-size:16.00px;-webkit-text-stroke:0.30px #0e0e0e">Resource Utilization</b></div>
<div class="t" style="left:950.70px;top:420.91px;color:#0e0e0e;transform:scaleX(0.8723)"><span style="font-size:16.00px;-webkit-text-stroke:0.20px #0e0e0e">(CPU,</span></div>
<div class="t" style="left:816.30px;top:438.00px;color:#0e0e0e;transform:scaleX(0.8846)"><span style="font-size:16.00px;-webkit-text-stroke:0.20px #0e0e0e">GPU, memory, storage)</span></div>
<div class="t" style="left:810.50px;top:467.60px;color:#0e0e0e;transform:scaleX(0.9346)"><b style="font-size:22.50px;-webkit-text-stroke:0.45px #0e0e0e">80%</b></div>
<div class="t" style="left:856.60px;top:469.60px;color:#0e0e0e;transform:scaleX(0.9526)"><span style="font-size:16.80px;-webkit-text-stroke:0.20px #0e0e0e">of data engineer time</span></div>
<div class="t" style="left:810.50px;top:488.22px;color:#0e0e0e;transform:scaleX(0.9440)"><span style="font-size:16.80px;-webkit-text-stroke:0.20px #0e0e0e">spent on maintenance</span></div>
<div class="t" style="left:800.70px;top:526.60px;color:#0e0e0e;transform:scaleX(0.8784)"><b style="font-size:21.00px;-webkit-text-stroke:0.45px #0e0e0e">Cost Metrics</b></div>
<div class="t" style="left:816.30px;top:551.10px;color:#0e0e0e;transform:scaleX(0.9098)"><b style="font-size:15.00px;-webkit-text-stroke:0.30px #0e0e0e">Amazon Titan Text Embeddings:</b></div>
<div class="t" style="left:816.30px;top:568.31px;color:#0e0e0e;transform:scaleX(0.9439)"><b style="font-size:16.00px;-webkit-text-stroke:0.30px #0e0e0e">$0.02</b></div>
<div class="t" style="left:856.90px;top:568.31px;color:#0e0e0e;transform:scaleX(0.9245)"><span style="font-size:16.00px;-webkit-text-stroke:0.20px #0e0e0e">per million tokens</span></div>
<div class="t" style="left:850.90px;top:602.70px;color:#0e0e0e;transform:scaleX(0.9379)"><b style="font-size:22.70px;-webkit-text-stroke:0.45px #0e0e0e">73%</b></div>
<div class="t" style="left:897.20px;top:604.70px;color:#0e0e0e;transform:scaleX(0.9440)"><span style="font-size:17.20px;-webkit-text-stroke:0.20px #0e0e0e">of enterprise</span></div>
<div class="t" style="left:850.90px;top:624.01px;color:#0e0e0e;transform:scaleX(0.9396)"><span style="font-size:17.20px;-webkit-text-stroke:0.20px #0e0e0e">deployments fail</span></div>
<div class="t" style="left:1159.70px;top:180.00px;color:#0e0e0e;transform:scaleX(0.8681)"><b style="font-size:21.00px;-webkit-text-stroke:0.45px #0e0e0e">Performance Gains</b></div>
<div class="t" style="left:1175.40px;top:205.11px;color:#0e0e0e;transform:scaleX(0.8870)"><b style="font-size:17.20px;-webkit-text-stroke:0.30px #0e0e0e">Modality-Aware</b></div>
<div class="t" style="left:1175.40px;top:223.82px;color:#0e0e0e;transform:scaleX(0.8714)"><b style="font-size:17.20px;-webkit-text-stroke:0.30px #0e0e0e">Partitioning:</b></div>
<div class="t" style="left:1238.00px;top:257.61px;color:#0e0e0e;transform:scaleX(0.9678)"><span style="font-size:16.70px;-webkit-text-stroke:0.20px #0e0e0e">Performance up:</span></div>
<div class="t" style="left:1238.00px;top:279.70px;color:#0e0e0e;transform:scaleX(0.9651)"><span style="font-size:16.70px;-webkit-text-stroke:0.20px #0e0e0e">Up to</span></div>
<div class="t" style="left:1279.90px;top:277.71px;color:#0e0e0e;transform:scaleX(0.9713)"><b style="font-size:22.00px;-webkit-text-stroke:0.45px #0e0e0e">97.3%</b></div>
<div class="t" style="left:1238.00px;top:298.41px;color:#0e0e0e;transform:scaleX(0.8978)"><b style="font-size:16.70px;-webkit-text-stroke:0.30px #0e0e0e">efficiency increase</b></div>
<div class="t" style="left:1175.40px;top:331.70px;color:#0e0e0e;transform:scaleX(0.8643)"><b style="font-size:17.20px;-webkit-text-stroke:0.30px #0e0e0e">Dynamic Interleaved</b></div>
<div class="t" style="left:1175.40px;top:350.70px;color:#0e0e0e;transform:scaleX(0.8603)"><b style="font-size:17.20px;-webkit-text-stroke:0.30px #0e0e0e">Pipeline Scheduling</b></div>
<div class="t" style="left:1175.40px;top:372.32px;color:#0e0e0e;transform:scaleX(0.8750)"><b style="font-size:17.20px;-webkit-text-stroke:0.30px #0e0e0e">4-bit Quantization</b></div>
<div class="t" style="left:1305.70px;top:372.32px;color:#0e0e0e;transform:scaleX(0.8759)"><span style="font-size:17.20px;-webkit-text-stroke:0.20px #0e0e0e">(QLoRA)</span></div>
<div class="t" style="left:1159.70px;top:434.60px;color:#0e0e0e;transform:scaleX(0.8682)"><b style="font-size:21.00px;-webkit-text-stroke:0.45px #0e0e0e">Cost-Saving Strategies</b></div>
<div class="t" style="left:1175.40px;top:459.01px;color:#0e0e0e;letter-spacing:-0.004px;transform:scaleX(0.8600)"><b style="font-size:17.20px;-webkit-text-stroke:0.30px #0e0e0e">Spot instances</b></div>
<div class="t" style="left:1283.80px;top:459.01px;color:#0e0e0e;transform:scaleX(1.0168)"><span style="font-size:17.20px;-webkit-text-stroke:0.20px #0e0e0e">for</span></div>
<div class="t" style="left:1175.40px;top:478.11px;color:#0e0e0e;transform:scaleX(0.9383)"><span style="font-size:17.20px;-webkit-text-stroke:0.20px #0e0e0e">non-critical tasks</span></div>
<div class="t" style="left:1175.40px;top:499.61px;color:#0e0e0e;letter-spacing:-0.101px;transform:scaleX(0.8600)"><b style="font-size:17.20px;-webkit-text-stroke:0.30px #0e0e0e">Caching</b></div>
<div class="t" style="left:1236.60px;top:499.61px;color:#0e0e0e;transform:scaleX(0.9256)"><span style="font-size:17.20px;-webkit-text-stroke:0.20px #0e0e0e">(75% discount for</span></div>
<div class="t" style="left:1175.40px;top:518.41px;color:#0e0e0e;transform:scaleX(0.8992)"><span style="font-size:17.20px;-webkit-text-stroke:0.20px #0e0e0e">cached inputs with GPT-4.1</span></div>
<div class="t" style="left:1175.40px;top:537.11px;color:#0e0e0e;transform:scaleX(0.9302)"><span style="font-size:17.20px;-webkit-text-stroke:0.20px #0e0e0e">nano)</span></div>
<div class="t" style="left:1175.40px;top:559.41px;color:#0e0e0e;letter-spacing:-0.131px;transform:scaleX(0.8600)"><b style="font-size:17.20px;-webkit-text-stroke:0.30px #0e0e0e">Early stopping</b></div>
<div class="t" style="left:1279.90px;top:559.41px;color:#0e0e0e;transform:scaleX(0.9521)"><span style="font-size:17.20px;-webkit-text-stroke:0.20px #0e0e0e">for poor</span></div>
<div class="t" style="left:1175.40px;top:577.41px;color:#0e0e0e;transform:scaleX(0.9836)"><span style="font-size:17.20px;-webkit-text-stroke:0.20px #0e0e0e">trials</span></div>
<div class="t" style="left:50.10px;top:705.01px;color:#fff;transform:scaleX(0.8979)"><b style="font-size:23.00px;-webkit-text-stroke:0.45px #fff">Critical Success Factors</b></div>
<div class="t" style="left:394.70px;top:692.72px;color:#fff;transform:scaleX(0.8920)"><b style="font-size:23.70px;-webkit-text-stroke:0.45px #fff">60%</b></div>
<div class="t" style="left:441.70px;top:694.70px;color:#fff;transform:scaleX(0.9489)"><span style="font-size:19.00px;-webkit-text-stroke:0.20px #fff">batch space waste from</span></div>
<div class="t" style="left:394.70px;top:715.11px;color:#fff;transform:scaleX(0.9292)"><span style="font-size:19.00px;-webkit-text-stroke:0.20px #fff">naive padding (real example)</span></div>
<div class="t" style="left:768.50px;top:693.41px;color:#fff;transform:scaleX(0.8983)"><b style="font-size:23.70px;-webkit-text-stroke:0.45px #fff">20%</b></div>
<div class="t" style="left:815.00px;top:695.41px;color:#fff;transform:scaleX(0.9535)"><span style="font-size:19.00px;-webkit-text-stroke:0.20px #fff">of compute resources</span></div>
<div class="t" style="left:768.50px;top:716.61px;color:#fff;transform:scaleX(0.9440)"><span style="font-size:19.00px;-webkit-text-stroke:0.20px #fff">dedicated to evaluation</span></div>
<div class="t" style="left:1118.60px;top:694.41px;color:#fff;transform:scaleX(0.8807)"><b style="font-size:21.50px;-webkit-text-stroke:0.45px #fff">Reliability &gt; Performance</b></div>
<div class="t" style="left:1118.60px;top:714.91px;color:#fff;transform:scaleX(0.9412)"><span style="font-size:19.50px;-webkit-text-stroke:0.20px #fff">in production</span></div>
<div class="bu" style="left:805.50px;top:202.50px"></div>
<div class="bu" style="left:805.50px;top:223.90px"></div>
<div class="bu" style="left:805.50px;top:262.80px"></div>
<div class="bu" style="left:805.50px;top:283.30px"></div>
<div class="bu" style="left:805.50px;top:366.70px"></div>
<div class="bu" style="left:805.50px;top:400.90px"></div>
<div class="bu" style="left:805.50px;top:418.20px"></div>
<div class="bu" style="left:805.50px;top:548.40px"></div>
<div class="bu" style="left:1163.50px;top:203.40px"></div>
<div class="bu" style="left:1163.50px;top:330.00px"></div>
<div class="bu" style="left:1163.50px;top:370.60px"></div>
<div class="bu" style="left:1163.50px;top:457.30px"></div>
<div class="bu" style="left:1163.50px;top:497.90px"></div>
<div class="bu" style="left:1163.50px;top:557.70px"></div>
</body></html>
